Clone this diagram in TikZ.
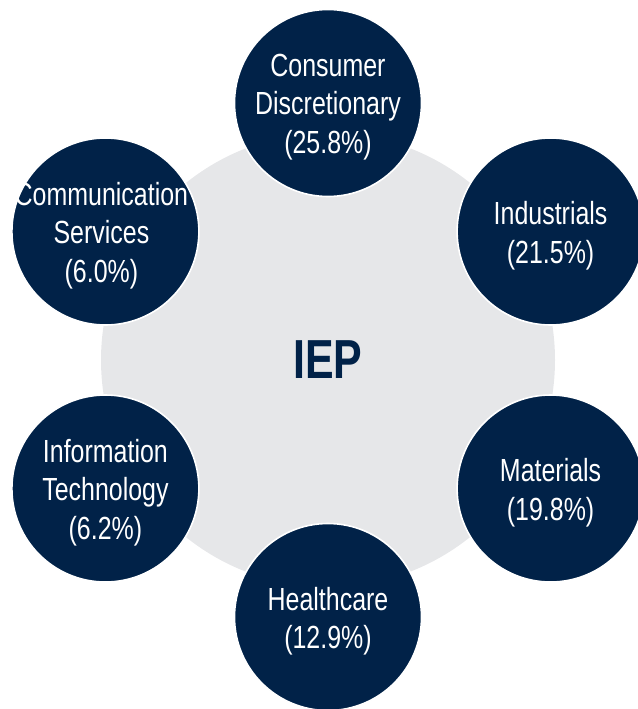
\documentclass[tikz,border=0pt]{standalone}
\usepackage{fontspec}
\setmainfont{Liberation Sans}[FakeStretch=0.78]
\definecolor{navy}{RGB}{1,34,72}
\definecolor{greyfill}{RGB}{230,231,233}
\begin{document}
\begin{tikzpicture}[x=1pt,y=-1pt,
  sector/.style={circle,fill=navy,draw=white,line width=1.6pt,minimum size=187pt,inner sep=0pt},
  sectortext/.style={text=white,align=center,inner sep=0pt,yshift=-4pt,
    font=\fontsize{32}{38.5}\selectfont},
  hub/.style={circle,fill=greyfill,minimum size=454pt,inner sep=0pt,
    text=navy,font=\bfseries\fontsize{55}{60}\selectfont}]
\useasboundingbox (0,0) rectangle (637,709);
\node[hub] (iep) at (328,360) {IEP};
\node[sector] (cd) at (328,103) {};
\node[sector] (ind) at (550.6,231.5) {};
\node[sector] (mat) at (550.6,488.5) {};
\node[sector] (hc) at (328,617) {};
\node[sector] (it) at (105.4,488.5) {};
\node[sector] (cs) at (105.4,231.5) {};
\node[sectortext] (cdt) at (cd) {Consumer\\Discretionary\\(25.8\%)};
\node[sectortext] (indt) at (ind) {Industrials\\(21.5\%)};
\node[sectortext] (matt) at (mat) {Materials\\(19.8\%)};
\node[sectortext] (hct) at (hc) {Healthcare\\(12.9\%)};
\node[sectortext] (itt) at (it) {Information\\Technology\\(6.2\%)};
\node[sectortext,xshift=-4pt] (cst) at (cs) {Communication\\Services\\(6.0\%)};
\end{tikzpicture}
\end{document}
